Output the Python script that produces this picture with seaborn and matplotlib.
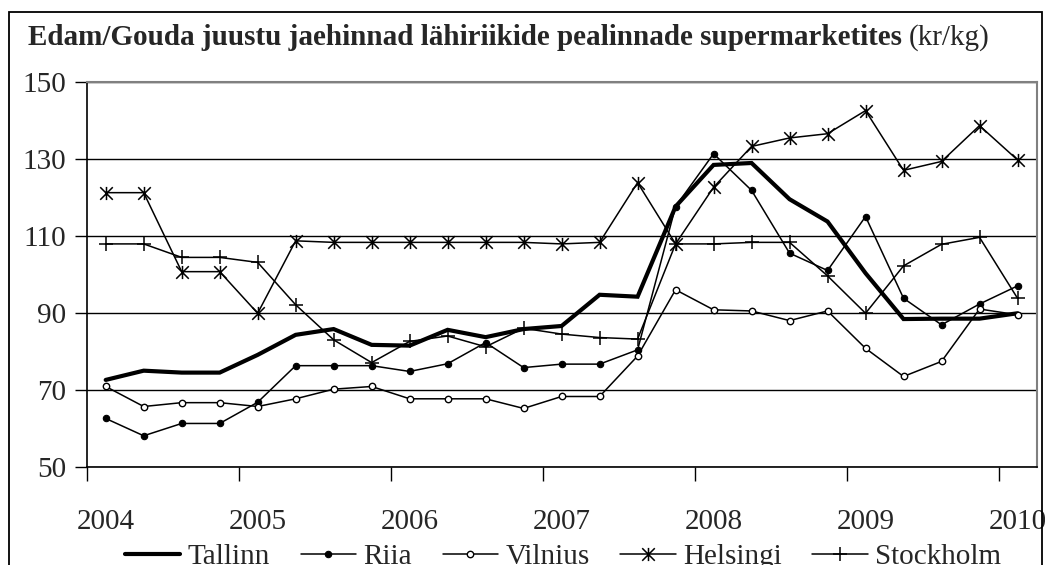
import numpy as np
import pandas as pd
import matplotlib
matplotlib.use("Agg")
import matplotlib.pyplot as plt
from matplotlib.path import Path
from matplotlib.patches import Rectangle
import seaborn as sns

# ---------------- data (quarterly, 2004 Q1 .. 2010 Q1) ----------------
quarters = list(range(25))
year_labels = ["2004", "2005", "2006", "2007", "2008", "2009", "2010"]

tallinn = [72.6, 75.0, 74.5, 74.5, 79.1, 84.3, 85.8, 81.7, 81.5, 85.6, 83.7, 85.8, 86.6,
           94.7, 94.2, 117.6, 128.4, 128.9, 119.5, 113.7, 100.3, 88.4, 88.5, 88.5, 89.9]
riia = [62.6, 58.1, 61.3, 61.3, 66.8, 76.3, 76.3, 76.3, 74.8, 76.8, 82.3, 75.8, 76.7,
        76.7, 80.4, 117.6, 131.3, 121.8, 105.5, 101.0, 115.0, 93.8, 86.9, 92.3, 97.0]
vilnius = [70.9, 65.7, 66.7, 66.7, 65.7, 67.7, 70.2, 70.9, 67.7, 67.7, 67.7, 65.2, 68.3,
           68.3, 78.8, 96.0, 90.8, 90.5, 88.0, 90.5, 80.8, 73.5, 77.4, 91.0, 89.5]
helsingi = [121.2, 121.2, 100.7, 100.7, 89.9, 108.7, 108.3, 108.3, 108.3, 108.3, 108.3, 108.3,
            107.9, 108.3, 123.8, 107.9, 122.6, 133.2, 135.4, 136.5, 142.5, 127.0, 129.3, 138.6, 129.7]
stockholm = [107.9, 107.9, 104.4, 104.4, 103.1, 92.1, 83.0, 77.1, 82.6, 84.0, 81.2, 86.0, 84.5,
             83.6, 83.2, 107.9, 107.9, 108.3, 108.3, 99.6, 89.9, 102.2, 107.8, 109.6, 93.8]

series_names = ["Tallinn", "Riia", "Vilnius", "Helsingi", "Stockholm"]
series_values = [tallinn, riia, vilnius, helsingi, stockholm]

title_bold = "Edam/Gouda juustu jaehinnad lähiriikide pealinnade supermarketites"
title_unit = "(kr/kg)"

# ---------------- style ----------------
sns.set_style("white")
plt.rcParams["font.family"] = ["Liberation Serif", "DejaVu Serif"]
plt.rcParams["font.size"] = 21

W, H = 1045, 565
fig = plt.figure(figsize=(W / 100, H / 100), dpi=100)
ax_l, ax_r, ax_t, ax_b = 86.7, 1036.5, 81.7, 467.0
ax = fig.add_axes([ax_l / W, 1 - ax_b / H, (ax_r - ax_l) / W, (ax_b - ax_t) / H])

star = Path([(-1, -1), (1, 1), (-1, 1), (1, -1), (0, -1.05), (0, 1.05)],
            [Path.MOVETO, Path.LINETO, Path.MOVETO, Path.LINETO, Path.MOVETO, Path.LINETO])

styles = {
    "Tallinn": dict(linewidth=3.0, marker=None),
    "Riia": dict(linewidth=1.1, marker="o", markersize=4.6, markerfacecolor="black",
                 markeredgecolor="black", markeredgewidth=0.8),
    "Vilnius": dict(linewidth=1.1, marker="o", markersize=4.6, markerfacecolor="white",
                    markeredgecolor="black", markeredgewidth=1.0),
    "Helsingi": dict(linewidth=1.1, marker=star, markersize=9.5, markerfacecolor="none",
                     markeredgecolor="black", markeredgewidth=1.1),
    "Stockholm": dict(linewidth=1.1, marker="+", markersize=10, markerfacecolor="none",
                      markeredgecolor="black", markeredgewidth=1.1),
}

df = pd.DataFrame({"q": quarters})
for name, vals in zip(series_names, series_values):
    df[name] = vals

for name in series_names:
    sns.lineplot(data=df, x="q", y=name, ax=ax, color="black", label=name,
                 solid_joinstyle="miter", **styles[name])

# ---------------- axes ----------------
ax.set_xlim(-0.5, 24.5)
ax.set_ylim(50, 150)
ax.set_xlabel("")
ax.set_ylabel("")
ax.set_yticks([50, 70, 90, 110, 130, 150])
ax.tick_params(axis="y", direction="out", length=9, width=1, color="black",
               labelsize=21, pad=6, left=True)
ax.set_xticks(quarters[::4])
ax.set_xticklabels(year_labels)
ax.tick_params(axis="x", which="major", length=0, labelsize=21, pad=30)
ax.set_xticks(np.arange(-0.5, 24, 4), minor=True)
ax.tick_params(axis="x", which="minor", direction="out", length=10, width=1,
               color="black", bottom=True)
ax.yaxis.grid(True, color="black", linewidth=1.0)
ax.xaxis.grid(False)
ax.set_axisbelow(True)
for side in ["left", "bottom"]:
    ax.spines[side].set_color("black")
    ax.spines[side].set_linewidth(1.2)
for side in ["top", "right"]:
    ax.spines[side].set_color("#808080")
    ax.spines[side].set_linewidth(1.5)
    ax.spines[side].set_visible(True)

ax.get_legend().remove()
handles, labels = ax.get_legend_handles_labels()
fig.legend(handles, labels, loc="center", bbox_to_anchor=(563 / W, 1 - 557 / H),
           ncol=5, frameon=False, fontsize=21, handlelength=1.9,
           handletextpad=0.25, columnspacing=1.05, numpoints=1)

# ---------------- title ----------------
t1 = fig.text(28 / W, 1 - 45 / H, title_bold, fontsize=21, fontweight="bold",
              ha="left", va="baseline")
fig.canvas.draw()
bb = t1.get_window_extent()
fig.text((bb.x1 + 7) / W, 1 - 45 / H, title_unit, fontsize=21, ha="left", va="baseline")

# outer chart frame
fig.add_artist(Rectangle((9.3 / W, -0.2), (1042 - 9.3) / W, 1.2 - 12.3 / H,
                         transform=fig.transFigure, fill=False, edgecolor="black",
                         linewidth=1.3))

fig.savefig("out.png", dpi=100)
